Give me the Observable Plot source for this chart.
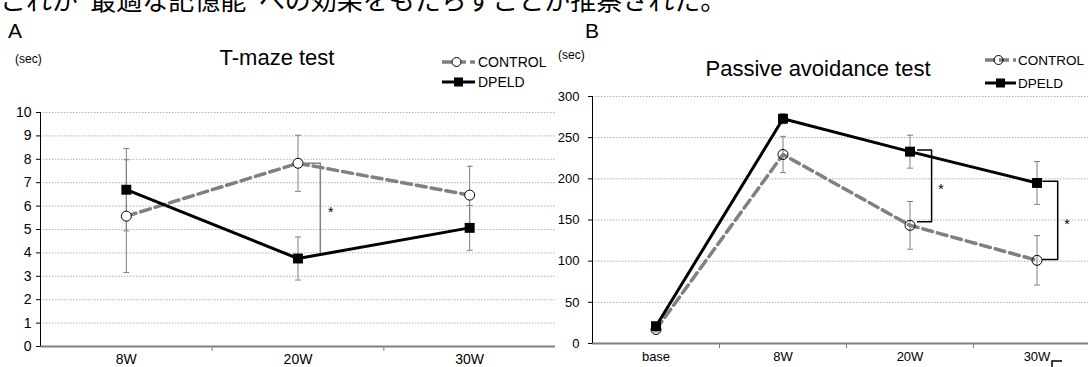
<!DOCTYPE html>
<html><head><meta charset="utf-8">
<script src="https://cdn.jsdelivr.net/npm/d3@7"></script>
<script src="https://cdn.jsdelivr.net/npm/@observablehq/plot@0.6"></script>
<style>
body{margin:0;background:#fff;overflow:hidden;}
#wrap{position:relative;width:1088px;height:367px;overflow:hidden;background:#fff;}
#wrap > svg{position:absolute;top:0;}
</style></head><body><div id="wrap"></div>
<script>
// ---------- data ----------
const catsA = ["8W", "20W", "30W"];
const controlA = [5.57, 7.83, 6.47];
const controlAErr = [2.41, 1.20, 1.23];
const dpeldA = [6.70, 3.76, 5.07];
const dpeldAErr = [1.76, 0.92, 0.96];
const ticksA = [0, 1, 2, 3, 4, 5, 6, 7, 8, 9, 10];

const catsB = ["base", "8W", "20W", "30W"];
const controlB = [17, 229.6, 143.5, 101];
const controlBErr = [3, 22, 29, 30];
const dpeldB = [21, 273, 233, 195];
const dpeldBErr = [4, 6, 20, 26];
const ticksB = [0, 50, 100, 150, 200, 250, 300];

// significance brackets: [category index, value]
const bracketA = [[1.03, 7.83], [1.13, 7.83], [1.13, 4.03]];
const starA = [[1.19, 5.86]];
const bracketsB = [
  [[2.06, 235], [2.17, 235], [2.17, 148], [2.06, 148]],
  [[3.045, 197], [3.163, 197], [3.163, 102], [3.045, 102]]
];
const starsB = [[2.244, 191], [3.236, 148.7]];

const FONT = "Arial, 'Liberation Sans', sans-serif";
const GRAY = "#808080";
const cap = {draw(ctx) { ctx.moveTo(-3, 0); ctx.lineTo(3, 0); }};

function rows(cats, ctrl, ctrlE, dp, dpE) {
  return {
    ctrl: cats.map((c, i) => ({x: i, v: ctrl[i], e: ctrlE[i]})),
    dp: cats.map((c, i) => ({x: i, v: dp[i], e: dpE[i]}))
  };
}

function seriesMarks(r, circleFill, circleStroke) {
  const all = [...r.ctrl, ...r.dp];
  return [
    Plot.ruleX(all, {x: "x", y1: d => d.v - d.e, y2: d => d.v + d.e, stroke: GRAY, strokeWidth: 1}),
    Plot.dot(all, {x: "x", y: d => d.v + d.e, symbol: cap, fill: "none", stroke: GRAY, strokeWidth: 1}),
    Plot.dot(all, {x: "x", y: d => d.v - d.e, symbol: cap, fill: "none", stroke: GRAY, strokeWidth: 1}),
    Plot.line(r.ctrl, {x: "x", y: "v", stroke: GRAY, strokeWidth: 3.5, strokeDasharray: "10,5"}),
    Plot.line(r.dp, {x: "x", y: "v", stroke: "#000", strokeWidth: 3}),
    Plot.dot(r.ctrl, {x: "x", y: "v", r: 5, symbol: "circle", fill: circleFill, stroke: circleStroke, strokeWidth: 1}),
    Plot.dot(r.dp, {x: "x", y: "v", r: 5.6, symbol: "square", fill: "#000", stroke: "none"})
  ];
}

const rA = rows(catsA, controlA, controlAErr, dpeldA, dpeldAErr);
const chartA = Plot.plot({
  width: 556, height: 367,
  marginLeft: 40, marginRight: 1, marginTop: 112, marginBottom: 21,
  x: {domain: [-0.5, catsA.length - 0.5], axis: null, label: null},
  y: {domain: [0, 10], axis: null, label: null},
  style: {fontFamily: FONT, fontSize: "14px", color: "#000", background: "transparent"},
  marks: [
    Plot.gridY(ticksA.slice(1), {stroke: "#b0b0b0", strokeOpacity: 1, strokeDasharray: "1.5,1.5"}),
    Plot.axisX(catsA.slice(1).map((c, i) => i + 0.5), {tickSize: 5, tickFormat: () => "", stroke: GRAY, label: null}),
    Plot.ruleY([0], {stroke: GRAY, strokeWidth: 2}),
    Plot.axisX(catsA.map((c, i) => i), {tickSize: 0, tickPadding: 8, tickFormat: i => catsA[i], fontSize: 14, label: null}),
    Plot.axisY(ticksA, {tickSize: 4, tickPadding: 5, fontSize: 14, stroke: "#000", label: null}),
    Plot.ruleX([-0.5], {stroke: "#000", strokeWidth: 1}),
    ...seriesMarks(rA, "#fff", "#000"),
    Plot.line(bracketA, {x: d => d[0], y: d => d[1], stroke: GRAY, strokeWidth: 1.5}),
    Plot.text(starA, {x: d => d[0], y: d => d[1], text: () => "*", fontSize: 14, dy: 3, fill: "#000"})
  ]
});
chartA.style.left = "0px";

const rB = rows(catsB, controlB, controlBErr, dpeldB, dpeldBErr);
const chartB = Plot.plot({
  width: 544, height: 367,
  marginLeft: 36, marginRight: 0, marginTop: 96, marginBottom: 24,
  x: {domain: [-0.5, catsB.length - 0.5], axis: null, label: null},
  y: {domain: [0, 300], axis: null, label: null},
  style: {fontFamily: FONT, fontSize: "13px", color: "#000", background: "transparent"},
  marks: [
    Plot.gridY(ticksB.slice(1), {stroke: "#b0b0b0", strokeOpacity: 1, strokeDasharray: "1.5,1.5"}),
    Plot.axisX(catsB.slice(1).map((c, i) => i + 0.5), {tickSize: 5, tickFormat: () => "", stroke: GRAY, label: null}),
    Plot.ruleY([0], {stroke: GRAY, strokeWidth: 2}),
    Plot.axisX(catsB.map((c, i) => i), {tickSize: 0, tickPadding: 8, tickFormat: i => catsB[i], fontSize: 13, label: null}),
    Plot.axisY(ticksB, {tickSize: 4, tickPadding: 9, fontSize: 13, stroke: "#000", label: null}),
    Plot.ruleX([-0.5], {stroke: "#000", strokeWidth: 1}),
    ...seriesMarks(rB, "none", "#000"),
    ...bracketsB.map(b => Plot.line(b, {x: d => d[0], y: d => d[1], stroke: "#000", strokeWidth: 1.5})),
    Plot.text(starsB, {x: d => d[0], y: d => d[1], text: () => "*", fontSize: 14, dy: 3, fill: "#000"})
  ]
});
chartB.style.left = "556px";

const wrap = document.getElementById("wrap");
wrap.appendChild(chartA);
wrap.appendChild(chartB);

// ---------- overlay texts & legends ----------
const ns = "http://www.w3.org/2000/svg";
const ov = document.createElementNS(ns, "svg");
ov.setAttribute("width", 1088); ov.setAttribute("height", 367);
ov.style.left = "0px"; ov.style.pointerEvents = "none";
wrap.appendChild(ov);
function el(tag, attrs, text) {
  const e = document.createElementNS(ns, tag);
  for (const k in attrs) e.setAttribute(k, attrs[k]);
  if (text != null) e.textContent = text;
  ov.appendChild(e); return e;
}
el("text", {x: 0, y: 10, "font-family": "'Noto Sans CJK JP', sans-serif", "font-size": 26}, "これが“最適な記憶能”への効果をもたらすことが推察された。");
el("text", {x: 8, y: 38, "font-family": FONT, "font-size": 21}, "A");
el("text", {x: 585, y: 38, "font-family": FONT, "font-size": 21}, "B");
el("text", {x: 15, y: 63, "font-family": FONT, "font-size": 12}, "(sec)");
el("text", {x: 558, y: 59, "font-family": FONT, "font-size": 12}, "(sec)");
el("text", {x: 277, y: 65, "font-family": FONT, "font-size": 22, "text-anchor": "middle"}, "T-maze test");
el("text", {x: 818, y: 76, "font-family": FONT, "font-size": 22, "text-anchor": "middle"}, "Passive avoidance test");

function legend(x0, x1, yC, yD, tx, fs, circleFill) {
  el("line", {x1: x0, x2: x1, y1: yC, y2: yC, stroke: GRAY, "stroke-width": 3.5, "stroke-dasharray": "10,4"});
  el("circle", {cx: (x0 + x1) / 2 - 2, cy: yC, r: 4.5, fill: circleFill, stroke: "#000", "stroke-width": 1});
  el("text", {x: tx, y: yC + fs * 0.36, "font-family": FONT, "font-size": fs}, "CONTROL");
  el("line", {x1: x0, x2: x1, y1: yD, y2: yD, stroke: "#000", "stroke-width": 3});
  el("rect", {x: (x0 + x1) / 2 - 4.5, y: yD - 4.5, width: 9, height: 9, fill: "#000"});
  el("text", {x: tx, y: yD + fs * 0.36, "font-family": FONT, "font-size": fs}, "DPELD");
}
legend(442, 475, 62, 82, 478, 14, "#fff");
legend(985, 1016, 60, 83, 1018, 13.5, "none");
// page-edge fragment at bottom right
el("path", {d: "M1052,367 V361 H1062", fill: "none", stroke: "#000", "stroke-width": 1.5});
</script>
</body></html>
